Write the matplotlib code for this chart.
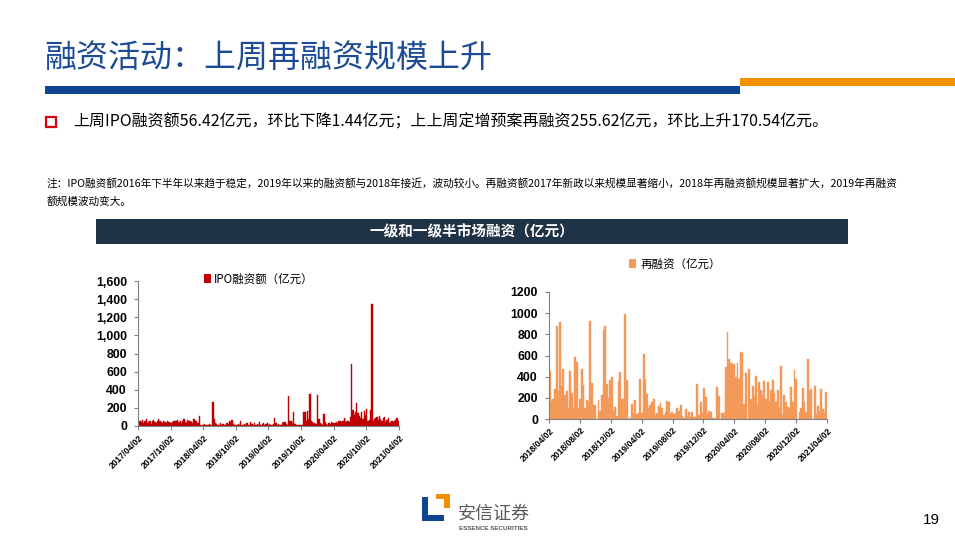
import numpy as np
import pandas as pd
import matplotlib
matplotlib.use("Agg")
import matplotlib.pyplot as plt
from matplotlib.patches import Rectangle
from matplotlib.ticker import FuncFormatter

plt.rcParams['font.family'] = ['Noto Sans CJK SC', 'DejaVu Sans']

# weekly IPO financing (亿元), 2017/04/02 - 2021/04/02
ipo_values = [
    50, 60, 40, 70, 30, 50, 80, 30, 40, 60, 20, 50, 70, 40, 30, 60, 80, 50, 40, 30, 60, 40, 30, 50, 40, 30,
    30, 40, 50, 60, 50, 70, 40, 60, 30, 50, 80, 40, 30, 70, 50, 60, 40, 30, 80, 50, 60, 30, 110, 10, 5, 10,
    20, 10, 15, 10, 20, 10, 15, 270, 75, 30, 20, 10, 15, 30, 10, 20, 10, 15, 30, 20, 60, 40, 70, 20, 10, 15,
    10, 20, 10, 60, 15, 10, 20, 10, 30, 10, 15, 40, 20, 10, 30, 10, 20, 15, 40, 10, 20, 30, 15, 20, 30, 10,
    20, 10, 15, 20, 90, 30, 10, 20, 15, 10, 30, 40, 45, 20, 10, 330, 50, 60, 30, 150, 20, 15, 10, 10, 10, 15,
    10, 155, 150, 60, 165, 80, 350, 60, 40, 30, 20, 20, 340, 80, 30, 20, 10, 130, 40, 20, 10, 30, 20, 40, 30, 30,
    30, 40, 30, 60, 50, 40, 60, 90, 50, 40, 50, 40, 100, 680, 180, 120, 150, 250, 140, 110, 90, 150, 80, 170, 120, 190,
    60, 70, 180, 1350, 60, 80, 90, 100, 70, 110, 80, 60, 90, 100, 40, 70, 90, 30, 40, 60, 40, 50, 70, 90, 56, 56,
]

# weekly refinancing (亿元), 2018/04/02 - 2021/04/02
refi_values = [
    450, 170, 190, 280, 880, 260, 920, 310, 470, 230, 260, 100, 450, 250, 100, 590, 540, 90, 190, 470,
    320, 100, 180, 160, 930, 340, 130, 130, 0, 180, 80, 230, 840, 880, 330, 200, 370, 400, 80, 110,
    30, 360, 440, 190, 190, 990, 370, 0, 10, 140, 60, 180, 50, 60, 380, 60, 610, 370, 240, 100,
    130, 160, 190, 40, 60, 120, 150, 100, 40, 70, 170, 160, 50, 70, 50, 60, 100, 80, 130, 30,
    10, 90, 30, 70, 20, 70, 20, 20, 330, 40, 160, 60, 290, 210, 50, 80, 70, 10, 10, 0,
    300, 220, 0, 60, 60, 490, 820, 570, 530, 520, 520, 400, 530, 380, 630, 620, 140, 430, 0, 470,
    190, 310, 220, 410, 130, 350, 270, 230, 360, 190, 350, 170, 270, 370, 250, 160, 270, 100, 500, 40,
    230, 160, 110, 100, 300, 160, 460, 380, 0, 70, 100, 290, 160, 70, 570, 260, 280, 0, 310, 50,
    120, 80, 280, 90, 70, 256, 256,
]

ipo_ticks = ["2017/04/02", "2017/10/02", "2018/04/02", "2018/10/02", "2019/04/02",
             "2019/10/02", "2020/04/02", "2020/10/02", "2021/04/02"]
refi_ticks = ["2018/04/02", "2018/08/02", "2018/12/02", "2019/04/02", "2019/08/02",
              "2019/12/02", "2020/04/02", "2020/08/02", "2020/12/02", "2021/04/02"]

ipo_dates = pd.date_range("2017-04-02", "2021-04-02", periods=len(ipo_values))
refi_dates = pd.date_range("2018-04-02", "2021-04-02", periods=len(refi_values))

W, H = 955, 537
fig = plt.figure(figsize=(W / 100, H / 100), dpi=100)


def fx(px):
    return px / W


def fy(py):
    return 1 - py / H


def rect(x0, y0, x1, y1, color, fill=True, lw=0):
    fig.patches.append(Rectangle((fx(x0), fy(y1)), fx(x1) - fx(x0), fy(y0) - fy(y1),
                                 transform=fig.transFigure, facecolor=color if fill else "none",
                                 edgecolor=color, linewidth=lw))


# header
fig.text(fx(44), fy(58), "融资活动：上周再融资规模上升", fontsize=23, color="#1C4C96",
         va="center", ha="left")
rect(45, 86, 740, 94, "#0D4593")
rect(740, 78, 955, 86, "#F39200")

rect(46, 117, 56, 127, "#D7000F", fill=False, lw=1.6)
fig.text(fx(73), fy(122), "上周IPO融资额56.42亿元，环比下降1.44亿元；上上周定增预案再融资255.62亿元，环比上升170.54亿元。",
         fontsize=11.5, color="black", va="center", ha="left", weight="medium")

note = ("注：IPO融资额2016年下半年以来趋于稳定，2019年以来的融资额与2018年接近，波动较小。"
        "再融资额2017年新政以来规模显著缩小，2018年再融资额规模显著扩大，2019年再融资")
fig.text(fx(47), fy(183), note, fontsize=7.7, va="center", ha="left")
fig.text(fx(47), fy(201), "额规模波动变大。", fontsize=7.7, va="center", ha="left")

rect(96, 219, 848, 244, "#1F3347")
fig.text(fx(472), fy(231.5), "一级和一级半市场融资（亿元）", fontsize=10.5, color="white",
         weight="bold", va="center", ha="center")

tick_font = dict(family=["Liberation Sans", "DejaVu Sans"], weight="bold")


def style_axis(ax, ticks, ymax, ystep, fmt):
    for s in ["top", "right"]:
        ax.spines[s].set_visible(False)
    for s in ["left", "bottom"]:
        ax.spines[s].set_color("#808080")
        ax.spines[s].set_linewidth(0.8)
    ax.set_ylim(0, ymax)
    ax.set_yticks(np.arange(0, ymax + 1, ystep))
    ax.yaxis.set_major_formatter(FuncFormatter(fmt))
    tdates = [pd.Timestamp(t.replace("/", "-")) for t in ticks]
    ax.set_xticks(tdates)
    ax.set_xticklabels(ticks, rotation=45, ha="right", rotation_mode="anchor",
                       fontsize=6.2, **tick_font)
    for lab in ax.get_yticklabels():
        lab.set_fontsize(8.8)
        lab.set_fontweight("bold")
        lab.set_family(["Liberation Sans", "DejaVu Sans"])
    ax.tick_params(axis="x", length=3, width=0.8, color="#808080", pad=2)
    ax.tick_params(axis="y", length=3, width=0.8, color="#808080", pad=5)
    ax.set_xlim(tdates[0], tdates[-1])


# IPO chart
ax1 = fig.add_axes([fx(138), fy(426), fx(399) - fx(138), fy(281) - fy(426)])
ax1.bar(ipo_dates, ipo_values, width=7.0, color="#C00000", edgecolor="#C00000",
        linewidth=0.3, align="edge")
style_axis(ax1, ipo_ticks, 1600, 200, lambda v, p: f"{int(v):,}")
fig.patches.append(Rectangle((fx(204), fy(283)), fx(7), fy(274) - fy(283),
                             transform=fig.transFigure, facecolor="#C00000", linewidth=0))
fig.text(fx(214), fy(279), "IPO融资额（亿元）", fontsize=8.3, va="center", ha="left")

# refinancing chart
ax2 = fig.add_axes([fx(549), fy(419), fx(827) - fx(549), fy(292) - fy(419)])
ax2.bar(refi_dates, refi_values, width=7.5, color="#F3995A", edgecolor="#F3995A",
        linewidth=0.3, align="edge")
style_axis(ax2, refi_ticks, 1200, 200, lambda v, p: f"{int(v)}")
fig.patches.append(Rectangle((fx(629), fy(268)), fx(7), fy(259) - fy(268),
                             transform=fig.transFigure, facecolor="#F3995A", linewidth=0))
fig.text(fx(640), fy(264), "再融资（亿元）", fontsize=8.3, va="center", ha="left")

# footer logo
rect(422, 497, 428, 521, "#0D4593")
rect(422, 515, 444, 521, "#0D4593")
rect(436, 494, 450, 508, "#F39200")
rect(436, 499, 444, 508, "white")
fig.text(fx(458), fy(514), "安信证券", fontsize=13, color="#595959", va="center", ha="left")
fig.text(fx(459), fy(529), "ESSENCE SECURITIES", fontsize=4.5, color="#595959", va="center",
         ha="left", family=["Liberation Sans"], weight="bold")
fig.text(fx(931), fy(520), "19", fontsize=11, va="center", ha="center",
         family=["Liberation Sans"])

fig.savefig("out.png", dpi=100)
